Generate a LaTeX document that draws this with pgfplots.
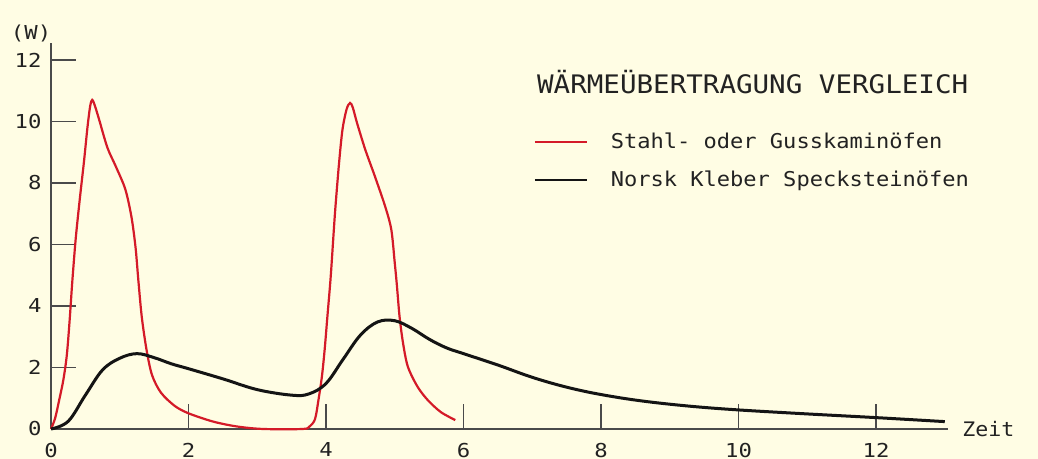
\documentclass[border=0pt]{standalone}
\usepackage{fontspec}
\setmainfont{DejaVu Sans Mono}[FakeStretch=1.08]
\newfontfamily\tickfont{DejaVu Sans Mono}[FakeStretch=1.16]
\usepackage{pgfplots}
\pgfplotsset{compat=1.18}
\definecolor{bg}{HTML}{FFFDE4}
\definecolor{axisgray}{HTML}{4A4A4A}
\definecolor{txt}{HTML}{222222}
\definecolor{stahl}{HTML}{D41A28}
\definecolor{norsk}{HTML}{141414}
\begin{document}
\begin{tikzpicture}
\fill[bg] (-25.5pt,-15pt) rectangle (493.5pt,214.5pt);
\begin{axis}[
  at={(0,0)}, anchor=south west,
  scale only axis, width=448.6pt, height=193pt,
  xmin=0, xmax=13.05, ymin=0, ymax=12.55,
  axis lines=left,
  axis line style={-, draw=axisgray, line width=0.8pt},
  tick align=inside, major tick length=12.5pt,
  tick style={draw=axisgray, line width=0.8pt},
  xtick={0,2,...,12}, ytick={0,2,...,12},
  /pgf/number format/assume math mode=true,
  ticklabel style={font=\tickfont\fontsize{9.6}{11}\selectfont, text=txt},
  xticklabel style={inner sep=0pt, yshift=-6.8pt},
  yticklabel style={xshift=-1.2pt},
  clip=false,
  legend image code/.code={\draw[#1, line width=1pt] (0pt,0pt) -- (26pt,0pt);},
  legend style={draw=none, fill=none, at={(0.531,0.783)}, anchor=north west,
    font=\fontsize{10.2}{12}\selectfont, text=txt, row sep=7.4pt,
    /tikz/every odd column/.append style={column sep=10.5pt},
    nodes={inner sep=1pt}},
  legend cell align=left,
]
\addplot[stahl, line width=1.1pt, smooth, tension=0.5] coordinates {
(0,0) (0.06,0.35) (0.12,0.95) (0.18,1.6) (0.23,2.4) (0.27,3.5) (0.31,4.8)
(0.36,6.2) (0.42,7.5) (0.48,8.7) (0.53,9.8) (0.57,10.5) (0.60,10.7) (0.64,10.5)
(0.70,10.06) (0.82,9.15) (0.94,8.55) (1.08,7.8) (1.17,6.9) (1.23,5.9)
(1.27,4.85) (1.32,3.65) (1.39,2.57) (1.47,1.75) (1.60,1.18) (1.80,0.75) (2.0,0.51)
(2.36,0.24) (2.71,0.08) (3.09,0.0) (3.66,0.0) (3.76,0.08) (3.84,0.32) (3.89,0.94)
(3.94,1.70) (3.98,2.57) (4.02,3.65) (4.07,5.0) (4.13,7.0) (4.19,8.65) (4.24,9.74)
(4.30,10.4) (4.35,10.6) (4.39,10.45) (4.45,9.96) (4.57,9.09) (4.71,8.22) (4.86,7.24)
(4.95,6.48) (5.0,5.4) (5.03,4.7) (5.07,3.65) (5.12,2.8) (5.19,2.03) (5.33,1.38)
(5.48,0.94) (5.67,0.55) (5.88,0.29)
};
\addlegendentry{Stahl- oder Gusskaminöfen}
\addplot[norsk, line width=1.5pt, smooth, tension=0.6] coordinates {
(0,0) (0.25,0.25) (0.5,1.1) (0.75,1.92) (1.0,2.3) (1.25,2.45) (1.5,2.32)
(1.75,2.12) (2.0,1.96) (2.5,1.63) (3.0,1.28) (3.5,1.10) (3.75,1.14) (4.0,1.48)
(4.25,2.27) (4.5,3.05) (4.75,3.48) (5.0,3.52) (5.25,3.27) (5.5,2.92) (5.75,2.64)
(6.0,2.45) (6.5,2.08) (7.0,1.68) (7.5,1.36) (8.0,1.12) (8.6,0.91) (9.3,0.74)
(10.0,0.62) (11.0,0.49) (12.0,0.37) (13.0,0.24)
};
\addlegendentry{Norsk Kleber Specksteinöfen}
\node[anchor=base west, inner sep=0pt, text=txt, font=\fontsize{12.75}{14}\selectfont]
  at (axis cs:7.065,10.92) {WÄRMEÜBERTRAGUNG VERGLEICH};
\node[text=txt, font=\tickfont\fontsize{9.6}{11}\selectfont] at (axis cs:-0.29,12.87) {(W)};
\node[anchor=west, text=txt, font=\fontsize{10}{12}\selectfont, xshift=3.5pt]
  at (axis cs:13.05,0) {Zeit};
\end{axis}
\pgfresetboundingbox
\path[use as bounding box] (-25.5pt,-15pt) rectangle (493.5pt,214.5pt);
\end{tikzpicture}
\end{document}
